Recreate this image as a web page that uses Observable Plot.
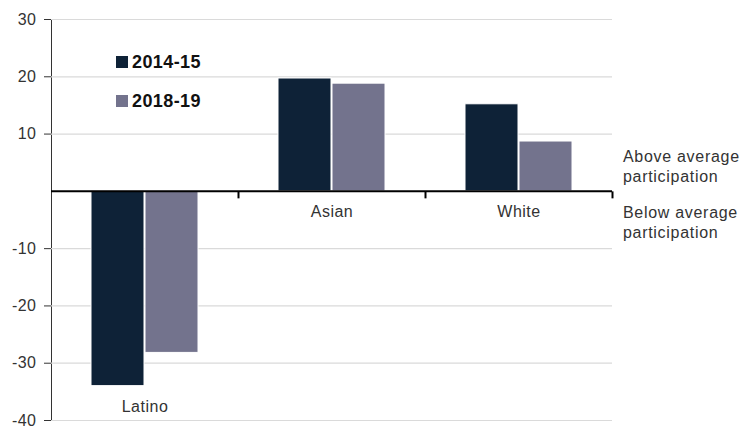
<!DOCTYPE html>
<html>
<head>
<meta charset="utf-8">
<script src="https://cdn.jsdelivr.net/npm/d3@7"></script>
<script src="https://cdn.jsdelivr.net/npm/@observablehq/plot@0.6"></script>
<style>
  html, body { margin: 0; padding: 0; background: #fff; }
  #wrap { position: relative; width: 742px; height: 428px; font-family: "Liberation Sans", Arial, sans-serif; color: #333; overflow: hidden; }
  #wrap svg text { letter-spacing: 0.5px; }
  .leg { position: absolute; font-weight: bold; font-size: 18px; letter-spacing: 0.4px; color: #111; display: flex; align-items: center; }
  .sw { width: 12px; height: 12px; margin-right: 4px; }
  .note { position: absolute; left: 623px; font-size: 16px; letter-spacing: 0.7px; line-height: 20px; color: #333; white-space: nowrap; }
</style>
</head>
<body>
<div id="wrap"></div>
<script>
const categories = ["Latino", "Asian", "White"];
const seriesNames = ["2014-15", "2018-19"];
const values2014 = [-34.0, 19.7, 15.2];
const values2018 = [-28.2, 18.8, 8.7];
const yTicks = [30, 20, 10, -10, -20, -30, -40];
const colors = ["#0e2237", "#73738d"];
const notes = [["Above average", "participation"], ["Below average", "participation"]];

const data = categories.flatMap((c, i) => [
  {cat: c, series: seriesNames[0], value: values2014[i]},
  {cat: c, series: seriesNames[1], value: values2018[i]}
]);
const labelData = categories.map((c, i) => ({cat: c, low: Math.min(0, values2014[i], values2018[i])}));

const tickSymbol = { draw(ctx) { ctx.moveTo(0, 0); ctx.lineTo(0, 7); } };

const chart = Plot.plot({
  width: 742, height: 428,
  marginLeft: 51, marginRight: 130, marginTop: 19, marginBottom: 8,
  style: {fontFamily: "'Liberation Sans', Arial, sans-serif", fontSize: "16px", color: "#333", background: "transparent"},
  fx: {domain: categories, padding: 0, axis: null},
  x: {domain: seriesNames, paddingInner: 0.025, paddingOuter: 0.72, axis: null},
  y: {domain: [-40, 30], ticks: yTicks, tickSize: 7, tickPadding: 8, line: true, label: null, tickFormat: d => String(d)},
  color: {domain: seriesNames, range: colors},
  marks: [
    Plot.ruleY(yTicks, {stroke: "#dadada", strokeWidth: 1.2}),
    Plot.barY(data, {fx: "cat", x: "series", y: "value", fill: "series", stroke: "white", strokeWidth: 1}),
    Plot.ruleY([0], {stroke: "black", strokeWidth: 2}),
    Plot.dot(categories, {fx: d => d, y: () => 0, frameAnchor: "right", symbol: tickSymbol, fill: "none", stroke: "black", strokeWidth: 2}),
    Plot.text(labelData, {fx: "cat", y: "low", text: "cat", dy: 21, fill: "#333", fontSize: 16})
  ]
});

const wrap = document.getElementById("wrap");
wrap.appendChild(chart);
chart.querySelectorAll("[aria-label='y-axis tick'], [aria-label='y-axis line']").forEach(g => g.setAttribute("stroke", "black"));

[[seriesNames[0], colors[0], 62], [seriesNames[1], colors[1], 101]].forEach(([name, col, cy]) => {
  const d = document.createElement("div");
  d.className = "leg";
  d.style.left = "116px";
  d.style.top = (cy - 11) + "px";
  d.style.height = "22px";
  d.innerHTML = `<span class="sw" style="background:${col}"></span><span>${name}</span>`;
  wrap.appendChild(d);
});
[[notes[0], 147], [notes[1], 203]].forEach(([lines, top]) => {
  const d = document.createElement("div");
  d.className = "note";
  d.style.top = top + "px";
  d.innerHTML = lines.join("<br>");
  wrap.appendChild(d);
});
</script>
</body>
</html>
